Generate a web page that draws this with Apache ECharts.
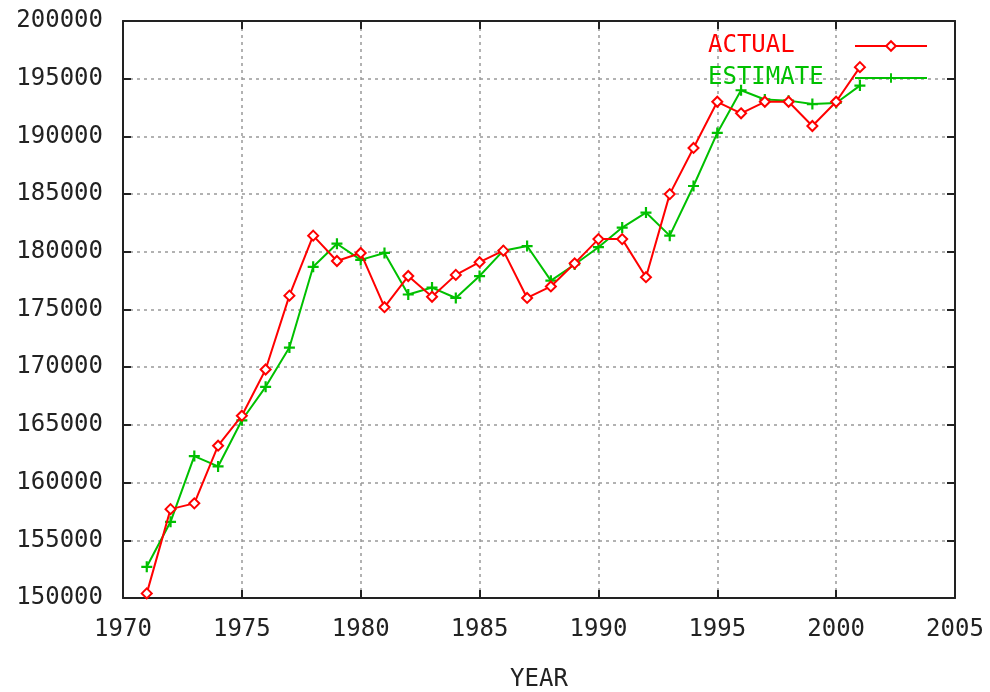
<!DOCTYPE html>
<html>
<head>
<meta charset="utf-8">
<script src="https://cdn.jsdelivr.net/npm/echarts@6/dist/echarts.min.js"></script>
<style>
  html, body { margin: 0; padding: 0; background: #fff; }
  #chart { width: 990px; height: 692px; }
</style>
</head>
<body>
<div id="chart"></div>
<script>
const years = [1971, 1972, 1973, 1974, 1975, 1976, 1977, 1978, 1979, 1980,
  1981, 1982, 1983, 1984, 1985, 1986, 1987, 1988, 1989, 1990,
  1991, 1992, 1993, 1994, 1995, 1996, 1997, 1998, 1999, 2000, 2001];

const actual = [150400, 157700, 158200, 163200, 165800, 169800, 176200, 181400, 179200, 179900,
  175200, 177900, 176100, 178000, 179100, 180100, 176000, 177000, 179000, 181100,
  181100, 177800, 185000, 189000, 193000, 192000, 193000, 193000, 190900, 193000, 196000];

const estimate = [152700, 156600, 162300, 161400, 165400, 168300, 171700, 178700, 180700, 179300,
  179900, 176300, 176900, 176000, 177900, 180100, 180500, 177500, 178900, 180400,
  182100, 183400, 181400, 185700, 190300, 194000, 193200, 193100, 192800, 192900, 194400];

const FONT = "DejaVu Sans Mono";
const plus = "path://M4,0 L6,0 L6,4 L10,4 L10,6 L6,6 L6,10 L4,10 L4,6 L0,6 L0,4 L4,4 Z";
const plain = (v) => String(v);

const chart = echarts.init(document.getElementById("chart"));

const frameLine = { show: true, lineStyle: { color: "#222", width: 2 } };
const frameTick = { show: true, inside: true, length: 8, lineStyle: { color: "#222", width: 2 } };
const gridLine = { show: true, lineStyle: { color: "#999", type: [3, 4], width: 1.5 } };

chart.setOption({
  animation: false,
  grid: { left: 123, right: 35, top: 21, bottom: 94, outerBoundsMode: "none" },
  legend: {
    left: 703,
    top: 29,
    orient: "vertical",
    align: "right",
    itemWidth: 72,
    itemHeight: 12,
    itemGap: 8,
    formatter: "{t|{name}}",
    textStyle: {
      fontFamily: FONT, fontSize: 24, lineHeight: 24,
      rich: { t: { fontFamily: FONT, fontSize: 24, width: 142, align: "left" } },
    },
    data: [
      { name: "ACTUAL", textStyle: { color: "#ff0000", rich: { t: { color: "#ff0000" } } } },
      { name: "ESTIMATE", textStyle: { color: "#00c000", rich: { t: { color: "#00c000" } } } },
    ],
  },
  xAxis: [
    {
      type: "value", min: 1970, max: 2005, interval: 5,
      name: "YEAR", nameLocation: "middle", nameGap: 70,
      nameTextStyle: { fontFamily: FONT, fontSize: 24, color: "#222" },
      axisLine: frameLine,
      axisTick: frameTick,
      axisLabel: { fontFamily: FONT, fontSize: 24, color: "#222", margin: 20, formatter: plain },
      splitLine: gridLine,
    },
    {
      type: "value", min: 1970, max: 2005, interval: 5, position: "top",
      axisLine: frameLine, axisTick: frameTick,
      axisLabel: { show: false }, splitLine: { show: false },
    },
  ],
  yAxis: [
    {
      type: "value", min: 150000, max: 200000, interval: 5000,
      axisLine: frameLine,
      axisTick: frameTick,
      axisLabel: { fontFamily: FONT, fontSize: 24, color: "#222", margin: 20, formatter: plain },
      splitLine: gridLine,
    },
    {
      type: "value", min: 150000, max: 200000, interval: 5000, position: "right",
      axisLine: frameLine, axisTick: frameTick,
      axisLabel: { show: false }, splitLine: { show: false },
    },
  ],
  series: [
    {
      name: "ACTUAL",
      type: "line",
      data: years.map((y, i) => [y, actual[i]]),
      symbol: "emptyDiamond",
      symbolSize: 10,
      showAllSymbol: true,
      color: "#ff0000",
      lineStyle: { color: "#ff0000", width: 2 },
      itemStyle: { color: "#ff0000", borderColor: "#ff0000", borderWidth: 1.5 },
      z: 3,
    },
    {
      name: "ESTIMATE",
      type: "line",
      data: years.map((y, i) => [y, estimate[i]]),
      symbol: plus,
      symbolSize: 11,
      showAllSymbol: true,
      color: "#00c000",
      lineStyle: { color: "#00c000", width: 2 },
      itemStyle: { color: "#00c000" },
      z: 2,
    },
  ],
});
</script>
</body>
</html>
